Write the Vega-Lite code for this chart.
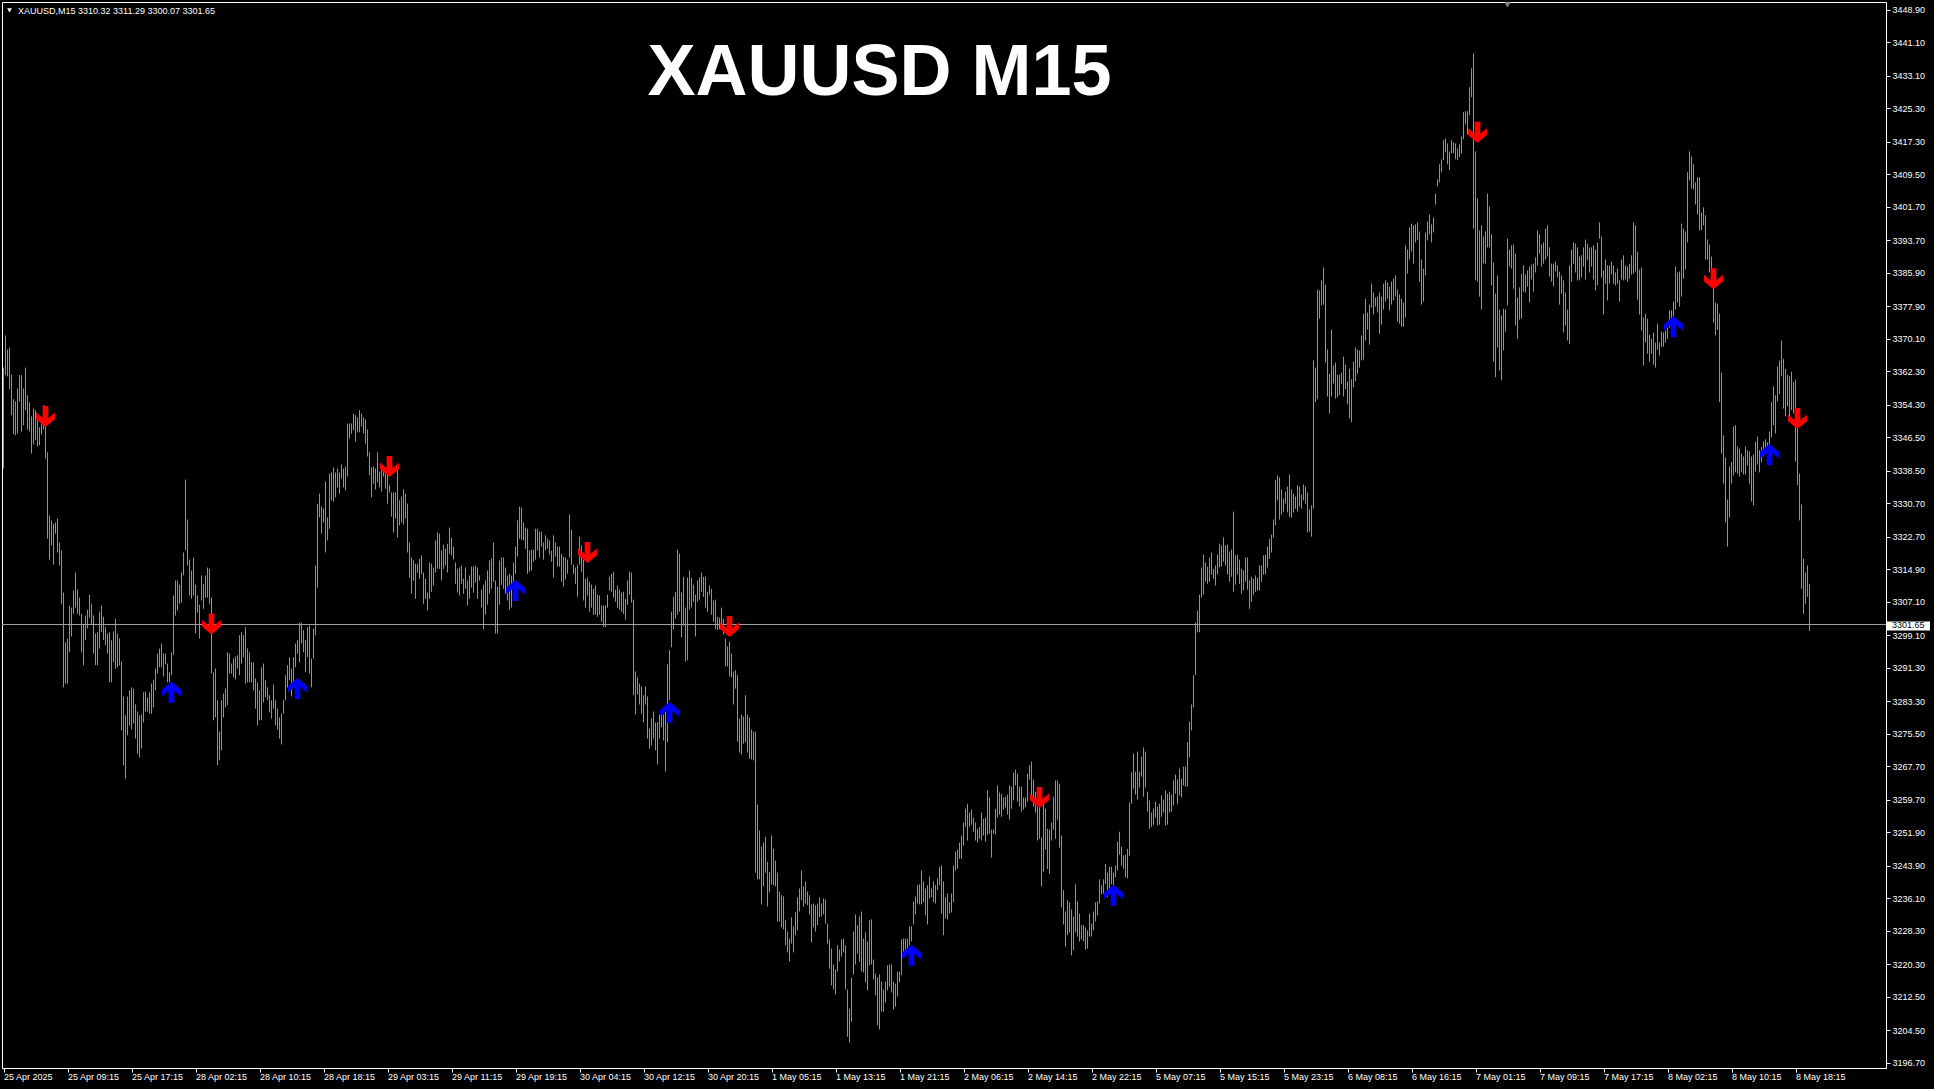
{
"$schema": "https://vega.github.io/schema/vega-lite/v6.json",
"width": 1884, "height": 1066,
"autosize": {"type": "none"},
"padding": {"left": 2, "top": 2, "right": 48, "bottom": 21},
"background": "#000000",
"config": {"view": {"stroke": "#ffffff", "strokeWidth": 1, "fill": "#000000"}, "font": "Liberation Sans",
"axis": {"labelOverlap": false, "labelFlush": false, "labelBound": false, "labelSeparation": 0, "grid": false, "title": null}},
"datasets": {
"bars": [
{"i":0,"h":3363.2,"l":3339.0},{"i":1,"h":3370.9,"l":3361.4},{"i":2,"h":3367.5,"l":3361.1},{"i":3,"h":3368.0,"l":3358.0},{"i":4,"h":3361.5,"l":3351.8},{"i":5,"h":3355.6,"l":3347.2},{"i":6,"h":3355.1,"l":3347.0},{"i":7,"h":3358.2,"l":3347.4},{"i":8,"h":3361.4,"l":3355.1},{"i":9,"h":3361.4,"l":3347.9},
{"i":10,"h":3358.2,"l":3349.4},{"i":11,"h":3363.2,"l":3353.0},{"i":12,"h":3356.6,"l":3348.4},{"i":13,"h":3354.9,"l":3347.9},{"i":14,"h":3351.5,"l":3342.6},{"i":15,"h":3353.4,"l":3344.8},{"i":16,"h":3353.0,"l":3345.8},{"i":17,"h":3351.0,"l":3344.3},{"i":18,"h":3348.9,"l":3344.6},{"i":19,"h":3350.1,"l":3347.2},
{"i":20,"h":3354.2,"l":3348.4},{"i":21,"h":3350.6,"l":3341.4},{"i":22,"h":3342.9,"l":3322.2},{"i":23,"h":3327.8,"l":3317.2},{"i":24,"h":3326.6,"l":3320.6},{"i":25,"h":3325.8,"l":3316.0},{"i":26,"h":3326.1,"l":3323.4},{"i":27,"h":3327.0,"l":3318.9},{"i":28,"h":3321.3,"l":3315.8},{"i":29,"h":3319.4,"l":3306.6},
{"i":30,"h":3309.3,"l":3286.6},{"i":31,"h":3297.4,"l":3287.5},{"i":32,"h":3298.3,"l":3287.5},{"i":33,"h":3306.2,"l":3295.0},{"i":34,"h":3305.7,"l":3298.8},{"i":35,"h":3309.8,"l":3304.2},{"i":36,"h":3314.1,"l":3305.7},{"i":37,"h":3310.0,"l":3304.2},{"i":38,"h":3308.1,"l":3303.8},{"i":39,"h":3304.2,"l":3295.0},
{"i":40,"h":3301.8,"l":3291.9},{"i":41,"h":3303.8,"l":3297.9},{"i":42,"h":3305.2,"l":3300.7},{"i":43,"h":3308.8,"l":3303.3},{"i":44,"h":3306.6,"l":3301.5},{"i":45,"h":3303.8,"l":3294.7},{"i":46,"h":3299.5,"l":3291.9},{"i":47,"h":3299.8,"l":3291.9},{"i":48,"h":3304.7,"l":3295.9},{"i":49,"h":3306.2,"l":3299.8},
{"i":50,"h":3303.5,"l":3297.9},{"i":51,"h":3301.0,"l":3296.7},{"i":52,"h":3299.5,"l":3294.7},{"i":53,"h":3299.8,"l":3287.8},{"i":54,"h":3297.9,"l":3287.8},{"i":55,"h":3300.0,"l":3292.6},{"i":56,"h":3303.0,"l":3291.1},{"i":57,"h":3299.5,"l":3291.4},{"i":58,"h":3298.3,"l":3291.9},{"i":59,"h":3292.8,"l":3276.3},
{"i":60,"h":3284.4,"l":3267.9},{"i":61,"h":3279.9,"l":3264.7},{"i":62,"h":3284.4,"l":3275.1},{"i":63,"h":3285.9,"l":3277.5},{"i":64,"h":3286.6,"l":3276.5},{"i":65,"h":3286.3,"l":3277.9},{"i":66,"h":3282.5,"l":3274.3},{"i":67,"h":3280.8,"l":3270.7},{"i":68,"h":3279.9,"l":3269.8},{"i":69,"h":3280.1,"l":3271.9},
{"i":70,"h":3285.4,"l":3278.2},{"i":71,"h":3285.6,"l":3280.8},{"i":72,"h":3284.2,"l":3280.8},{"i":73,"h":3285.4,"l":3280.3},{"i":74,"h":3287.5,"l":3280.3},{"i":75,"h":3288.3,"l":3281.8},{"i":76,"h":3291.1,"l":3285.9},{"i":77,"h":3294.7,"l":3289.9},{"i":78,"h":3295.9,"l":3291.4},{"i":79,"h":3297.1,"l":3291.4},
{"i":80,"h":3294.7,"l":3289.2},{"i":81,"h":3294.7,"l":3292.1},{"i":82,"h":3292.3,"l":3287.8},{"i":83,"h":3290.2,"l":3287.8},{"i":84,"h":3295.0,"l":3289.5},{"i":85,"h":3308.6,"l":3294.3},{"i":86,"h":3312.2,"l":3303.8},{"i":87,"h":3312.2,"l":3305.0},{"i":88,"h":3311.2,"l":3306.6},{"i":89,"h":3314.1,"l":3306.9},
{"i":90,"h":3318.9,"l":3313.4},{"i":91,"h":3336.4,"l":3319.4},{"i":92,"h":3326.8,"l":3315.8},{"i":93,"h":3317.2,"l":3308.6},{"i":94,"h":3314.6,"l":3307.8},{"i":95,"h":3317.7,"l":3308.6},{"i":96,"h":3311.2,"l":3299.5},{"i":97,"h":3308.6,"l":3304.5},{"i":98,"h":3306.4,"l":3298.3},{"i":99,"h":3313.4,"l":3307.4},
{"i":100,"h":3311.4,"l":3305.4},{"i":101,"h":3313.4,"l":3308.1},{"i":102,"h":3315.3,"l":3308.1},{"i":103,"h":3315.0,"l":3306.6},{"i":104,"h":3308.1,"l":3289.9},{"i":105,"h":3290.2,"l":3278.7},{"i":106,"h":3291.1,"l":3279.4},{"i":107,"h":3283.5,"l":3267.9},{"i":108,"h":3276.0,"l":3269.1},{"i":109,"h":3283.5,"l":3271.5},
{"i":110,"h":3285.1,"l":3279.4},{"i":111,"h":3286.3,"l":3281.8},{"i":112,"h":3295.0,"l":3282.3},{"i":113,"h":3294.7,"l":3289.9},{"i":114,"h":3292.3,"l":3289.9},{"i":115,"h":3293.5,"l":3289.0},{"i":116,"h":3294.0,"l":3288.5},{"i":117,"h":3294.3,"l":3291.1},{"i":118,"h":3299.1,"l":3289.5},{"i":119,"h":3299.8,"l":3292.3},
{"i":120,"h":3299.1,"l":3293.8},{"i":121,"h":3301.0,"l":3287.5},{"i":122,"h":3295.9,"l":3287.8},{"i":123,"h":3295.0,"l":3287.8},{"i":124,"h":3292.6,"l":3287.8},{"i":125,"h":3292.6,"l":3285.9},{"i":126,"h":3288.7,"l":3281.5},{"i":127,"h":3287.8,"l":3277.5},{"i":128,"h":3285.9,"l":3278.7},{"i":129,"h":3291.4,"l":3278.7},
{"i":130,"h":3292.3,"l":3283.0},{"i":131,"h":3288.3,"l":3284.2},{"i":132,"h":3286.6,"l":3283.5},{"i":133,"h":3284.7,"l":3280.6},{"i":134,"h":3283.5,"l":3279.1},{"i":135,"h":3287.3,"l":3281.5},{"i":136,"h":3283.5,"l":3277.5},{"i":137,"h":3281.5,"l":3276.5},{"i":138,"h":3279.4,"l":3274.3},{"i":139,"h":3280.3,"l":3272.9},
{"i":140,"h":3283.5,"l":3280.3},{"i":141,"h":3289.5,"l":3283.5},{"i":142,"h":3291.9,"l":3286.6},{"i":143,"h":3293.8,"l":3288.3},{"i":144,"h":3291.1,"l":3284.4},{"i":145,"h":3293.8,"l":3287.1},{"i":146,"h":3297.1,"l":3291.4},{"i":147,"h":3297.9,"l":3294.7},{"i":148,"h":3302.1,"l":3292.6},{"i":149,"h":3302.1,"l":3297.1},
{"i":150,"h":3300.3,"l":3295.0},{"i":151,"h":3297.9,"l":3290.2},{"i":152,"h":3301.0,"l":3293.8},{"i":153,"h":3301.4,"l":3289.9},{"i":154,"h":3293.5,"l":3286.6},{"i":155,"h":3300.7,"l":3293.5},{"i":156,"h":3315.8,"l":3299.1},{"i":157,"h":3330.6,"l":3310.5},{"i":158,"h":3333.0,"l":3327.3},{"i":159,"h":3329.9,"l":3323.4},
{"i":160,"h":3329.4,"l":3326.1},{"i":161,"h":3335.9,"l":3318.9},{"i":162,"h":3327.3,"l":3321.8},{"i":163,"h":3337.8,"l":3324.6},{"i":164,"h":3338.1,"l":3331.4},{"i":165,"h":3339.3,"l":3331.1},{"i":166,"h":3338.1,"l":3332.1},{"i":167,"h":3339.0,"l":3334.5},{"i":168,"h":3338.1,"l":3333.0},{"i":169,"h":3340.0,"l":3336.6},
{"i":170,"h":3339.0,"l":3334.5},{"i":171,"h":3339.5,"l":3333.8},{"i":172,"h":3349.8,"l":3337.1},{"i":173,"h":3349.8,"l":3346.2},{"i":174,"h":3349.8,"l":3347.4},{"i":175,"h":3352.2,"l":3348.2},{"i":176,"h":3351.8,"l":3345.5},{"i":177,"h":3351.3,"l":3347.7},{"i":178,"h":3353.0,"l":3347.7},{"i":179,"h":3352.2,"l":3349.1},
{"i":180,"h":3351.3,"l":3347.4},{"i":181,"h":3350.8,"l":3345.0},{"i":182,"h":3348.4,"l":3341.9},{"i":183,"h":3342.9,"l":3337.4},{"i":184,"h":3339.3,"l":3332.1},{"i":185,"h":3339.5,"l":3335.4},{"i":186,"h":3339.0,"l":3334.0},{"i":187,"h":3342.9,"l":3335.7},{"i":188,"h":3338.3,"l":3334.5},{"i":189,"h":3339.0,"l":3333.5},
{"i":190,"h":3338.8,"l":3337.1},{"i":191,"h":3338.1,"l":3334.2},{"i":192,"h":3337.8,"l":3330.6},{"i":193,"h":3335.0,"l":3333.3},{"i":194,"h":3333.3,"l":3327.5},{"i":195,"h":3333.3,"l":3323.7},{"i":196,"h":3333.3,"l":3327.0},{"i":197,"h":3338.6,"l":3322.5},{"i":198,"h":3331.4,"l":3325.4},{"i":199,"h":3332.3,"l":3326.1},
{"i":200,"h":3334.0,"l":3325.6},{"i":201,"h":3333.0,"l":3327.0},{"i":202,"h":3330.6,"l":3318.9},{"i":203,"h":3321.3,"l":3312.9},{"i":204,"h":3317.7,"l":3309.0},{"i":205,"h":3317.0,"l":3312.2},{"i":206,"h":3316.2,"l":3307.8},{"i":207,"h":3316.2,"l":3314.1},{"i":208,"h":3317.4,"l":3312.6},{"i":209,"h":3318.2,"l":3313.8},
{"i":210,"h":3314.1,"l":3306.6},{"i":211,"h":3312.6,"l":3307.8},{"i":212,"h":3309.3,"l":3305.0},{"i":213,"h":3316.5,"l":3307.8},{"i":214,"h":3316.2,"l":3309.5},{"i":215,"h":3315.3,"l":3311.0},{"i":216,"h":3321.8,"l":3314.1},{"i":217,"h":3323.7,"l":3315.0},{"i":218,"h":3323.4,"l":3315.0},{"i":219,"h":3319.4,"l":3312.2},
{"i":220,"h":3320.8,"l":3315.0},{"i":221,"h":3319.8,"l":3315.8},{"i":222,"h":3321.0,"l":3314.1},{"i":223,"h":3324.9,"l":3318.6},{"i":224,"h":3322.5,"l":3318.2},{"i":225,"h":3320.3,"l":3317.2},{"i":226,"h":3316.5,"l":3311.4},{"i":227,"h":3315.0,"l":3309.3},{"i":228,"h":3315.3,"l":3308.6},{"i":229,"h":3315.8,"l":3311.4},
{"i":230,"h":3312.6,"l":3309.0},{"i":231,"h":3315.3,"l":3310.2},{"i":232,"h":3312.2,"l":3306.2},{"i":233,"h":3313.4,"l":3307.8},{"i":234,"h":3315.5,"l":3310.5},{"i":235,"h":3315.5,"l":3309.3},{"i":236,"h":3315.8,"l":3311.7},{"i":237,"h":3315.3,"l":3307.8},{"i":238,"h":3313.4,"l":3312.2},{"i":239,"h":3310.0,"l":3305.7},
{"i":240,"h":3311.2,"l":3300.5},{"i":241,"h":3312.2,"l":3304.0},{"i":242,"h":3314.6,"l":3306.4},{"i":243,"h":3317.0,"l":3309.0},{"i":244,"h":3317.4,"l":3310.2},{"i":245,"h":3321.3,"l":3311.9},{"i":246,"h":3312.2,"l":3299.5},{"i":247,"h":3310.7,"l":3299.5},{"i":248,"h":3317.0,"l":3306.4},{"i":249,"h":3317.7,"l":3311.2},
{"i":250,"h":3317.7,"l":3310.2},{"i":251,"h":3315.3,"l":3309.0},{"i":252,"h":3313.4,"l":3307.4},{"i":253,"h":3313.8,"l":3305.2},{"i":254,"h":3313.4,"l":3305.7},{"i":255,"h":3316.5,"l":3309.5},{"i":256,"h":3320.3,"l":3313.8},{"i":257,"h":3326.6,"l":3317.9},{"i":258,"h":3329.9,"l":3322.2},{"i":259,"h":3329.7,"l":3322.0},
{"i":260,"h":3326.1,"l":3321.8},{"i":261,"h":3324.9,"l":3319.8},{"i":262,"h":3324.6,"l":3313.8},{"i":263,"h":3319.4,"l":3314.3},{"i":264,"h":3319.6,"l":3314.6},{"i":265,"h":3319.6,"l":3316.7},{"i":266,"h":3324.6,"l":3317.2},{"i":267,"h":3324.6,"l":3319.4},{"i":268,"h":3323.9,"l":3317.7},{"i":269,"h":3323.9,"l":3320.3},
{"i":270,"h":3321.3,"l":3317.2},{"i":271,"h":3323.0,"l":3319.4},{"i":272,"h":3322.2,"l":3319.8},{"i":273,"h":3321.8,"l":3318.4},{"i":274,"h":3319.4,"l":3316.7},{"i":275,"h":3323.0,"l":3312.9},{"i":276,"h":3321.3,"l":3317.9},{"i":277,"h":3320.3,"l":3315.5},{"i":278,"h":3320.3,"l":3315.5},{"i":279,"h":3318.6,"l":3311.9},
{"i":280,"h":3317.9,"l":3310.7},{"i":281,"h":3317.7,"l":3312.4},{"i":282,"h":3317.2,"l":3313.8},{"i":283,"h":3328.0,"l":3317.7},{"i":284,"h":3324.4,"l":3316.0},{"i":285,"h":3316.0,"l":3313.8},{"i":286,"h":3315.3,"l":3311.4},{"i":287,"h":3316.0,"l":3308.3},{"i":288,"h":3322.7,"l":3316.0},{"i":289,"h":3320.6,"l":3314.3},
{"i":290,"h":3317.2,"l":3307.4},{"i":291,"h":3312.6,"l":3305.7},{"i":292,"h":3312.9,"l":3308.6},{"i":293,"h":3311.9,"l":3304.7},{"i":294,"h":3311.2,"l":3305.7},{"i":295,"h":3310.2,"l":3304.0},{"i":296,"h":3311.0,"l":3304.0},{"i":297,"h":3308.8,"l":3303.5},{"i":298,"h":3308.6,"l":3304.0},{"i":299,"h":3306.2,"l":3302.3},
{"i":300,"h":3306.2,"l":3301.0},{"i":301,"h":3306.2,"l":3301.0},{"i":302,"h":3308.8,"l":3305.7},{"i":303,"h":3313.1,"l":3309.8},{"i":304,"h":3313.8,"l":3309.5},{"i":305,"h":3314.3,"l":3308.1},{"i":306,"h":3310.0,"l":3307.1},{"i":307,"h":3311.0,"l":3305.7},{"i":308,"h":3310.0,"l":3305.2},{"i":309,"h":3309.3,"l":3304.7},
{"i":310,"h":3309.5,"l":3304.2},{"i":311,"h":3307.8,"l":3302.8},{"i":312,"h":3312.2,"l":3306.4},{"i":313,"h":3314.3,"l":3308.8},{"i":314,"h":3314.1,"l":3306.9},{"i":315,"h":3307.6,"l":3284.7},{"i":316,"h":3290.4,"l":3280.1},{"i":317,"h":3289.0,"l":3284.9},{"i":318,"h":3287.5,"l":3282.5},{"i":319,"h":3286.8,"l":3280.3},
{"i":320,"h":3284.7,"l":3278.2},{"i":321,"h":3286.8,"l":3282.5},{"i":322,"h":3284.4,"l":3274.3},{"i":323,"h":3276.7,"l":3271.9},{"i":324,"h":3279.1,"l":3272.7},{"i":325,"h":3280.8,"l":3274.3},{"i":326,"h":3278.2,"l":3271.5},{"i":327,"h":3278.2,"l":3268.1},{"i":328,"h":3280.1,"l":3274.3},{"i":329,"h":3281.3,"l":3277.0},
{"i":330,"h":3280.1,"l":3273.9},{"i":331,"h":3280.8,"l":3266.4},{"i":332,"h":3292.1,"l":3273.4},{"i":333,"h":3295.5,"l":3283.5},{"i":334,"h":3304.7,"l":3296.2},{"i":335,"h":3308.3,"l":3300.5},{"i":336,"h":3309.5,"l":3303.0},{"i":337,"h":3319.6,"l":3304.0},{"i":338,"h":3318.6,"l":3304.7},{"i":339,"h":3309.3,"l":3298.6},
{"i":340,"h":3313.1,"l":3301.4},{"i":341,"h":3305.7,"l":3292.8},{"i":342,"h":3312.9,"l":3293.1},{"i":343,"h":3314.6,"l":3305.2},{"i":344,"h":3312.9,"l":3305.7},{"i":345,"h":3311.2,"l":3307.1},{"i":346,"h":3308.8,"l":3298.8},{"i":347,"h":3312.2,"l":3307.1},{"i":348,"h":3312.9,"l":3307.6},{"i":349,"h":3314.1,"l":3309.5},
{"i":350,"h":3313.1,"l":3308.3},{"i":351,"h":3313.1,"l":3305.7},{"i":352,"h":3309.5,"l":3304.7},{"i":353,"h":3311.0,"l":3308.8},{"i":354,"h":3310.2,"l":3304.0},{"i":355,"h":3307.4,"l":3302.3},{"i":356,"h":3307.6,"l":3300.5},{"i":357,"h":3303.5,"l":3300.3},{"i":358,"h":3303.3,"l":3300.5},{"i":359,"h":3305.7,"l":3301.0},
{"i":360,"h":3303.0,"l":3299.3},{"i":361,"h":3298.3,"l":3291.6},{"i":362,"h":3296.4,"l":3291.6},{"i":363,"h":3297.6,"l":3289.2},{"i":364,"h":3294.7,"l":3289.0},{"i":365,"h":3290.4,"l":3282.5},{"i":366,"h":3290.7,"l":3286.3},{"i":367,"h":3289.5,"l":3273.6},{"i":368,"h":3279.1,"l":3271.0},{"i":369,"h":3280.1,"l":3270.5},
{"i":370,"h":3279.6,"l":3273.1},{"i":371,"h":3284.7,"l":3273.4},{"i":372,"h":3280.1,"l":3271.0},{"i":373,"h":3279.4,"l":3269.5},{"i":374,"h":3276.5,"l":3269.3},{"i":375,"h":3276.0,"l":3269.1},{"i":376,"h":3276.0,"l":3242.2},{"i":377,"h":3258.5,"l":3240.6},{"i":378,"h":3252.3,"l":3240.6},{"i":379,"h":3248.4,"l":3234.6},
{"i":380,"h":3249.4,"l":3238.9},{"i":381,"h":3250.8,"l":3242.2},{"i":382,"h":3244.8,"l":3234.1},{"i":383,"h":3242.4,"l":3237.5},{"i":384,"h":3251.1,"l":3239.4},{"i":385,"h":3247.9,"l":3239.2},{"i":386,"h":3245.1,"l":3238.9},{"i":387,"h":3242.2,"l":3230.5},{"i":388,"h":3237.7,"l":3230.5},{"i":389,"h":3236.8,"l":3229.1},
{"i":390,"h":3236.5,"l":3228.6},{"i":391,"h":3230.8,"l":3224.8},{"i":392,"h":3228.1,"l":3223.1},{"i":393,"h":3226.4,"l":3220.9},{"i":394,"h":3231.5,"l":3225.2},{"i":395,"h":3229.3,"l":3223.1},{"i":396,"h":3232.7,"l":3227.2},{"i":397,"h":3236.3,"l":3228.4},{"i":398,"h":3238.4,"l":3232.9},{"i":399,"h":3242.7,"l":3235.6},
{"i":400,"h":3238.9,"l":3234.1},{"i":401,"h":3240.1,"l":3234.8},{"i":402,"h":3237.7,"l":3234.4},{"i":403,"h":3236.8,"l":3232.2},{"i":404,"h":3234.6,"l":3225.5},{"i":405,"h":3234.8,"l":3229.1},{"i":406,"h":3234.4,"l":3228.1},{"i":407,"h":3234.8,"l":3229.6},{"i":408,"h":3236.3,"l":3231.5},{"i":409,"h":3234.8,"l":3231.7},
{"i":410,"h":3236.0,"l":3232.2},{"i":411,"h":3235.8,"l":3230.0},{"i":412,"h":3230.0,"l":3225.2},{"i":413,"h":3226.2,"l":3219.2},{"i":414,"h":3224.0,"l":3215.2},{"i":415,"h":3220.2,"l":3214.2},{"i":416,"h":3219.0,"l":3213.0},{"i":417,"h":3224.8,"l":3218.5},{"i":418,"h":3223.8,"l":3220.9},{"i":419,"h":3226.2,"l":3222.1},
{"i":420,"h":3226.4,"l":3223.1},{"i":421,"h":3224.8,"l":3214.2},{"i":422,"h":3214.2,"l":3202.9},{"i":423,"h":3209.6,"l":3201.5},{"i":424,"h":3217.1,"l":3206.5},{"i":425,"h":3228.1,"l":3217.8},{"i":426,"h":3232.2,"l":3220.2},{"i":427,"h":3229.6,"l":3222.8},{"i":428,"h":3231.7,"l":3220.9},{"i":429,"h":3232.9,"l":3218.5},
{"i":430,"h":3226.4,"l":3218.3},{"i":431,"h":3227.9,"l":3215.9},{"i":432,"h":3225.7,"l":3214.0},{"i":433,"h":3230.8,"l":3220.0},{"i":434,"h":3231.0,"l":3220.2},{"i":435,"h":3221.4,"l":3216.6},{"i":436,"h":3218.0,"l":3212.8},{"i":437,"h":3217.1,"l":3205.6},{"i":438,"h":3217.8,"l":3204.6},{"i":439,"h":3216.1,"l":3208.9},
{"i":440,"h":3214.2,"l":3208.9},{"i":441,"h":3216.1,"l":3211.1},{"i":442,"h":3220.0,"l":3214.0},{"i":443,"h":3220.2,"l":3214.9},{"i":444,"h":3220.2,"l":3213.5},{"i":445,"h":3216.1,"l":3209.4},{"i":446,"h":3215.6,"l":3210.1},{"i":447,"h":3218.5,"l":3212.5},{"i":448,"h":3218.5,"l":3215.9},{"i":449,"h":3226.2,"l":3217.6},
{"i":450,"h":3226.4,"l":3222.4},{"i":451,"h":3226.4,"l":3223.1},{"i":452,"h":3226.4,"l":3222.8},{"i":453,"h":3229.3,"l":3224.8},{"i":454,"h":3229.3,"l":3225.7},{"i":455,"h":3235.3,"l":3229.8},{"i":456,"h":3236.5,"l":3232.2},{"i":457,"h":3239.2,"l":3234.8},{"i":458,"h":3239.4,"l":3234.6},{"i":459,"h":3242.7,"l":3234.6},
{"i":460,"h":3240.1,"l":3235.1},{"i":461,"h":3238.4,"l":3232.0},{"i":462,"h":3239.2,"l":3229.8},{"i":463,"h":3241.3,"l":3236.0},{"i":464,"h":3238.4,"l":3236.3},{"i":465,"h":3240.1,"l":3235.1},{"i":466,"h":3239.2,"l":3234.8},{"i":467,"h":3240.8,"l":3238.0},{"i":468,"h":3243.6,"l":3239.2},{"i":469,"h":3243.9,"l":3232.4},
{"i":470,"h":3240.1,"l":3227.2},{"i":471,"h":3236.3,"l":3231.2},{"i":472,"h":3237.2,"l":3231.0},{"i":473,"h":3235.1,"l":3232.4},{"i":474,"h":3237.2,"l":3232.7},{"i":475,"h":3243.9,"l":3235.1},{"i":476,"h":3247.2,"l":3242.7},{"i":477,"h":3247.7,"l":3243.1},{"i":478,"h":3249.4,"l":3245.5},{"i":479,"h":3251.1,"l":3245.5},
{"i":480,"h":3254.2,"l":3248.7},{"i":481,"h":3257.5,"l":3253.2},{"i":482,"h":3258.7,"l":3249.9},{"i":483,"h":3256.6,"l":3253.2},{"i":484,"h":3257.3,"l":3253.7},{"i":485,"h":3255.4,"l":3252.0},{"i":486,"h":3254.2,"l":3249.9},{"i":487,"h":3252.7,"l":3249.4},{"i":488,"h":3253.2,"l":3250.3},{"i":489,"h":3256.6,"l":3249.9},
{"i":490,"h":3255.1,"l":3251.1},{"i":491,"h":3255.4,"l":3249.6},{"i":492,"h":3261.9,"l":3251.3},{"i":493,"h":3260.2,"l":3251.5},{"i":494,"h":3252.5,"l":3245.8},{"i":495,"h":3252.5,"l":3251.5},{"i":496,"h":3257.5,"l":3251.3},{"i":497,"h":3263.1,"l":3255.4},{"i":498,"h":3261.4,"l":3256.1},{"i":499,"h":3261.1,"l":3255.6},
{"i":500,"h":3260.2,"l":3257.3},{"i":501,"h":3260.4,"l":3257.8},{"i":502,"h":3260.9,"l":3256.1},{"i":503,"h":3263.1,"l":3254.9},{"i":504,"h":3262.8,"l":3257.5},{"i":505,"h":3266.2,"l":3259.5},{"i":506,"h":3266.9,"l":3263.1},{"i":507,"h":3265.9,"l":3259.2},{"i":508,"h":3262.8,"l":3258.0},{"i":509,"h":3262.8,"l":3256.8},
{"i":510,"h":3260.2,"l":3257.3},{"i":511,"h":3260.2,"l":3257.8},{"i":512,"h":3265.9,"l":3259.2},{"i":513,"h":3267.9,"l":3264.5},{"i":514,"h":3268.8,"l":3259.7},{"i":515,"h":3264.5,"l":3258.0},{"i":516,"h":3261.6,"l":3256.6},{"i":517,"h":3258.0,"l":3249.9},{"i":518,"h":3260.4,"l":3250.3},{"i":519,"h":3250.6,"l":3238.9},
{"i":520,"h":3259.2,"l":3242.4},{"i":521,"h":3257.5,"l":3247.7},{"i":522,"h":3252.7,"l":3243.1},{"i":523,"h":3252.5,"l":3241.9},{"i":524,"h":3254.2,"l":3249.9},{"i":525,"h":3260.4,"l":3252.5},{"i":526,"h":3264.3,"l":3250.3},{"i":527,"h":3264.3,"l":3254.9},{"i":528,"h":3263.5,"l":3248.2},{"i":529,"h":3251.1,"l":3233.9},
{"i":530,"h":3238.0,"l":3229.8},{"i":531,"h":3232.9,"l":3224.5},{"i":532,"h":3235.6,"l":3227.2},{"i":533,"h":3235.1,"l":3227.9},{"i":534,"h":3233.4,"l":3222.4},{"i":535,"h":3231.7,"l":3223.6},{"i":536,"h":3239.4,"l":3227.9},{"i":537,"h":3235.3,"l":3226.9},{"i":538,"h":3232.4,"l":3225.7},{"i":539,"h":3229.6,"l":3226.2},
{"i":540,"h":3229.6,"l":3225.7},{"i":541,"h":3229.1,"l":3223.8},{"i":542,"h":3228.4,"l":3224.0},{"i":543,"h":3232.4,"l":3226.9},{"i":544,"h":3230.0,"l":3226.9},{"i":545,"h":3232.9,"l":3228.4},{"i":546,"h":3235.1,"l":3230.5},{"i":547,"h":3235.3,"l":3232.0},{"i":548,"h":3240.6,"l":3234.8},{"i":549,"h":3239.2,"l":3237.0},
{"i":550,"h":3240.6,"l":3237.2},{"i":551,"h":3244.3,"l":3239.5},{"i":552,"h":3242.2,"l":3236.3},{"i":553,"h":3243.6,"l":3238.0},{"i":554,"h":3243.6,"l":3239.4},{"i":555,"h":3242.2,"l":3238.4},{"i":556,"h":3243.9,"l":3241.1},{"i":557,"h":3249.6,"l":3242.7},{"i":558,"h":3252.0,"l":3246.5},{"i":559,"h":3248.4,"l":3243.9},
{"i":560,"h":3246.3,"l":3243.1},{"i":561,"h":3246.5,"l":3241.1},{"i":562,"h":3247.9,"l":3240.8},{"i":563,"h":3259.0,"l":3246.3},{"i":564,"h":3266.2,"l":3258.7},{"i":565,"h":3270.7,"l":3262.3},{"i":566,"h":3266.4,"l":3260.9},{"i":567,"h":3271.2,"l":3259.7},{"i":568,"h":3266.4,"l":3262.6},{"i":569,"h":3270.0,"l":3265.2},
{"i":570,"h":3272.2,"l":3260.4},{"i":571,"h":3271.2,"l":3262.6},{"i":572,"h":3261.6,"l":3256.8},{"i":573,"h":3259.5,"l":3252.7},{"i":574,"h":3256.6,"l":3253.2},{"i":575,"h":3257.5,"l":3253.7},{"i":576,"h":3259.2,"l":3255.4},{"i":577,"h":3258.0,"l":3253.5},{"i":578,"h":3258.7,"l":3253.7},{"i":579,"h":3260.7,"l":3255.6},
{"i":580,"h":3259.7,"l":3256.6},{"i":581,"h":3261.9,"l":3253.5},{"i":582,"h":3261.1,"l":3253.7},{"i":583,"h":3261.6,"l":3256.6},{"i":584,"h":3260.9,"l":3256.8},{"i":585,"h":3264.3,"l":3258.3},{"i":586,"h":3265.7,"l":3261.1},{"i":587,"h":3264.5,"l":3258.7},{"i":588,"h":3267.1,"l":3260.7},{"i":589,"h":3264.7,"l":3260.2},
{"i":590,"h":3267.6,"l":3263.1},{"i":591,"h":3267.6,"l":3262.8},{"i":592,"h":3273.4,"l":3262.8},{"i":593,"h":3278.4,"l":3269.8},{"i":594,"h":3282.5,"l":3276.3},{"i":595,"h":3289.5,"l":3281.8},{"i":596,"h":3302.1,"l":3289.5},{"i":597,"h":3305.0,"l":3299.8},{"i":598,"h":3308.8,"l":3299.8},{"i":599,"h":3315.3,"l":3308.1},
{"i":600,"h":3318.4,"l":3308.8},{"i":601,"h":3316.5,"l":3311.9},{"i":602,"h":3315.5,"l":3311.4},{"i":603,"h":3317.7,"l":3311.9},{"i":604,"h":3318.9,"l":3313.6},{"i":605,"h":3315.0,"l":3312.6},{"i":606,"h":3315.8,"l":3311.0},{"i":607,"h":3318.4,"l":3313.6},{"i":608,"h":3321.0,"l":3315.3},{"i":609,"h":3320.6,"l":3315.5},
{"i":610,"h":3322.5,"l":3316.7},{"i":611,"h":3320.6,"l":3315.8},{"i":612,"h":3320.8,"l":3313.6},{"i":613,"h":3319.1,"l":3311.9},{"i":614,"h":3319.6,"l":3313.1},{"i":615,"h":3328.7,"l":3309.5},{"i":616,"h":3318.2,"l":3311.2},{"i":617,"h":3318.4,"l":3313.6},{"i":618,"h":3317.2,"l":3311.4},{"i":619,"h":3315.0,"l":3309.0},
{"i":620,"h":3314.6,"l":3309.8},{"i":621,"h":3317.7,"l":3311.9},{"i":622,"h":3317.7,"l":3310.0},{"i":623,"h":3312.2,"l":3305.4},{"i":624,"h":3313.1,"l":3307.1},{"i":625,"h":3312.6,"l":3308.8},{"i":626,"h":3313.4,"l":3309.5},{"i":627,"h":3312.9,"l":3309.8},{"i":628,"h":3315.8,"l":3309.8},{"i":629,"h":3315.8,"l":3311.9},
{"i":630,"h":3318.2,"l":3313.6},{"i":631,"h":3318.4,"l":3313.6},{"i":632,"h":3320.3,"l":3315.3},{"i":633,"h":3322.2,"l":3317.4},{"i":634,"h":3323.2,"l":3318.9},{"i":635,"h":3326.8,"l":3322.5},{"i":636,"h":3336.2,"l":3325.4},{"i":637,"h":3337.4,"l":3331.4},{"i":638,"h":3336.9,"l":3326.8},{"i":639,"h":3334.0,"l":3328.0},
{"i":640,"h":3331.8,"l":3328.7},{"i":641,"h":3333.5,"l":3330.6},{"i":642,"h":3334.7,"l":3328.5},{"i":643,"h":3337.6,"l":3327.5},{"i":644,"h":3334.0,"l":3327.3},{"i":645,"h":3333.0,"l":3328.5},{"i":646,"h":3332.3,"l":3329.4},{"i":647,"h":3335.0,"l":3328.7},{"i":648,"h":3334.7,"l":3329.9},{"i":649,"h":3332.8,"l":3329.4},
{"i":650,"h":3335.2,"l":3331.4},{"i":651,"h":3334.7,"l":3330.6},{"i":652,"h":3333.3,"l":3323.7},{"i":653,"h":3329.2,"l":3323.9},{"i":654,"h":3330.2,"l":3322.7},{"i":655,"h":3364.9,"l":3329.4},{"i":656,"h":3363.2,"l":3354.9},{"i":657,"h":3381.9,"l":3355.6},{"i":658,"h":3381.7,"l":3374.9},{"i":659,"h":3384.1,"l":3378.1},
{"i":660,"h":3387.2,"l":3378.3},{"i":661,"h":3383.1,"l":3364.4},{"i":662,"h":3367.5,"l":3356.3},{"i":663,"h":3361.7,"l":3352.2},{"i":664,"h":3372.3,"l":3356.3},{"i":665,"h":3363.7,"l":3359.4},{"i":666,"h":3364.4,"l":3355.8},{"i":667,"h":3361.5,"l":3356.1},{"i":668,"h":3361.5,"l":3356.6},{"i":669,"h":3362.0,"l":3359.2},
{"i":670,"h":3365.8,"l":3356.3},{"i":671,"h":3363.9,"l":3358.0},{"i":672,"h":3359.9,"l":3354.4},{"i":673,"h":3362.9,"l":3351.0},{"i":674,"h":3360.4,"l":3350.1},{"i":675,"h":3364.6,"l":3358.5},{"i":676,"h":3368.0,"l":3359.9},{"i":677,"h":3367.5,"l":3361.7},{"i":678,"h":3367.3,"l":3363.2},{"i":679,"h":3370.9,"l":3364.9},
{"i":680,"h":3376.1,"l":3365.1},{"i":681,"h":3379.7,"l":3369.7},{"i":682,"h":3376.4,"l":3372.3},{"i":683,"h":3378.3,"l":3368.7},{"i":684,"h":3383.3,"l":3377.6},{"i":685,"h":3381.2,"l":3375.9},{"i":686,"h":3380.0,"l":3377.8},{"i":687,"h":3380.2,"l":3376.4},{"i":688,"h":3381.2,"l":3371.3},{"i":689,"h":3380.2,"l":3373.5},
{"i":690,"h":3383.3,"l":3377.1},{"i":691,"h":3384.1,"l":3379.0},{"i":692,"h":3383.6,"l":3379.7},{"i":693,"h":3382.6,"l":3376.9},{"i":694,"h":3383.8,"l":3378.3},{"i":695,"h":3384.5,"l":3379.3},{"i":696,"h":3385.3,"l":3380.2},{"i":697,"h":3381.9,"l":3374.2},{"i":698,"h":3380.7,"l":3373.7},{"i":699,"h":3379.7,"l":3373.0},
{"i":700,"h":3378.8,"l":3373.0},{"i":701,"h":3392.5,"l":3375.2},{"i":702,"h":3391.5,"l":3385.7},{"i":703,"h":3396.8,"l":3389.1},{"i":704,"h":3397.7,"l":3391.0},{"i":705,"h":3397.3,"l":3388.1},{"i":706,"h":3397.5,"l":3393.2},{"i":707,"h":3398.0,"l":3393.7},{"i":708,"h":3395.8,"l":3383.8},{"i":709,"h":3389.1,"l":3378.3},
{"i":710,"h":3386.9,"l":3379.0},{"i":711,"h":3395.6,"l":3385.3},{"i":712,"h":3398.2,"l":3393.7},{"i":713,"h":3399.9,"l":3395.1},{"i":714,"h":3397.5,"l":3393.2},{"i":715,"h":3399.2,"l":3395.6},{"i":716,"h":3404.9,"l":3402.3},{"i":717,"h":3408.3,"l":3406.6},{"i":718,"h":3411.9,"l":3407.6},{"i":719,"h":3413.1,"l":3410.0},
{"i":720,"h":3417.7,"l":3412.9},{"i":721,"h":3418.1,"l":3414.8},{"i":722,"h":3416.9,"l":3411.9},{"i":723,"h":3415.0,"l":3410.5},{"i":724,"h":3417.7,"l":3414.5},{"i":725,"h":3417.2,"l":3414.5},{"i":726,"h":3416.9,"l":3413.1},{"i":727,"h":3415.7,"l":3412.9},{"i":728,"h":3416.7,"l":3413.6},{"i":729,"h":3418.6,"l":3414.5},
{"i":730,"h":3424.4,"l":3417.9},{"i":731,"h":3424.6,"l":3421.5},{"i":732,"h":3424.6,"l":3419.1},{"i":733,"h":3430.4,"l":3423.7},{"i":734,"h":3434.9,"l":3428.0},{"i":735,"h":3438.5,"l":3396.5},{"i":736,"h":3415.0,"l":3384.1},{"i":737,"h":3403.7,"l":3383.8},{"i":738,"h":3396.1,"l":3380.2},{"i":739,"h":3397.3,"l":3377.1},
{"i":740,"h":3394.6,"l":3388.1},{"i":741,"h":3395.8,"l":3388.1},{"i":742,"h":3404.9,"l":3392.0},{"i":743,"h":3401.8,"l":3392.0},{"i":744,"h":3395.1,"l":3382.9},{"i":745,"h":3388.4,"l":3364.6},{"i":746,"h":3380.9,"l":3360.9},{"i":747,"h":3385.3,"l":3368.0},{"i":748,"h":3377.1,"l":3362.5},{"i":749,"h":3375.7,"l":3360.2},
{"i":750,"h":3377.3,"l":3367.3},{"i":751,"h":3377.1,"l":3371.8},{"i":752,"h":3394.1,"l":3378.1},{"i":753,"h":3391.5,"l":3387.4},{"i":754,"h":3392.5,"l":3386.9},{"i":755,"h":3392.7,"l":3382.1},{"i":756,"h":3390.5,"l":3373.3},{"i":757,"h":3380.0,"l":3370.1},{"i":758,"h":3382.4,"l":3374.7},{"i":759,"h":3385.7,"l":3374.9},
{"i":760,"h":3387.7,"l":3381.4},{"i":761,"h":3385.5,"l":3381.2},{"i":762,"h":3386.5,"l":3382.6},{"i":763,"h":3387.4,"l":3378.8},{"i":764,"h":3387.9,"l":3384.3},{"i":765,"h":3388.1,"l":3381.4},{"i":766,"h":3389.6,"l":3386.0},{"i":767,"h":3396.1,"l":3387.7},{"i":768,"h":3395.1,"l":3390.5},{"i":769,"h":3392.7,"l":3387.4},
{"i":770,"h":3393.2,"l":3388.1},{"i":771,"h":3396.5,"l":3389.1},{"i":772,"h":3397.3,"l":3389.8},{"i":773,"h":3392.0,"l":3385.0},{"i":774,"h":3388.1,"l":3383.8},{"i":775,"h":3388.1,"l":3382.6},{"i":776,"h":3388.6,"l":3386.2},{"i":777,"h":3387.7,"l":3384.8},{"i":778,"h":3386.2,"l":3378.3},{"i":779,"h":3385.3,"l":3380.9},
{"i":780,"h":3384.1,"l":3371.6},{"i":781,"h":3381.2,"l":3373.3},{"i":782,"h":3377.1,"l":3369.7},{"i":783,"h":3387.7,"l":3368.9},{"i":784,"h":3391.5,"l":3383.8},{"i":785,"h":3393.2,"l":3388.1},{"i":786,"h":3392.9,"l":3386.0},{"i":787,"h":3392.0,"l":3384.1},{"i":788,"h":3389.8,"l":3384.1},{"i":789,"h":3390.1,"l":3384.8},
{"i":790,"h":3392.0,"l":3387.4},{"i":791,"h":3393.9,"l":3384.3},{"i":792,"h":3392.9,"l":3388.9},{"i":793,"h":3392.0,"l":3386.0},{"i":794,"h":3392.0,"l":3387.4},{"i":795,"h":3392.5,"l":3384.3},{"i":796,"h":3391.5,"l":3381.7},{"i":797,"h":3393.2,"l":3382.9},{"i":798,"h":3398.0,"l":3394.1},{"i":799,"h":3394.6,"l":3384.8},
{"i":800,"h":3386.5,"l":3375.9},{"i":801,"h":3389.1,"l":3383.3},{"i":802,"h":3387.7,"l":3379.3},{"i":803,"h":3387.7,"l":3383.3},{"i":804,"h":3388.6,"l":3385.5},{"i":805,"h":3387.7,"l":3383.3},{"i":806,"h":3386.0,"l":3382.9},{"i":807,"h":3386.9,"l":3383.3},{"i":808,"h":3384.1,"l":3379.0},{"i":809,"h":3389.1,"l":3384.3},
{"i":810,"h":3390.1,"l":3384.1},{"i":811,"h":3387.7,"l":3384.3},{"i":812,"h":3387.4,"l":3383.8},{"i":813,"h":3388.1,"l":3384.5},{"i":814,"h":3390.1,"l":3385.5},{"i":815,"h":3398.0,"l":3385.7},{"i":816,"h":3397.3,"l":3386.2},{"i":817,"h":3391.0,"l":3379.5},{"i":818,"h":3386.7,"l":3375.9},{"i":819,"h":3387.2,"l":3372.1},
{"i":820,"h":3375.2,"l":3363.7},{"i":821,"h":3376.1,"l":3369.2},{"i":822,"h":3374.9,"l":3366.5},{"i":823,"h":3371.1,"l":3364.6},{"i":824,"h":3370.1,"l":3366.5},{"i":825,"h":3371.6,"l":3363.9},{"i":826,"h":3369.2,"l":3363.2},{"i":827,"h":3373.7,"l":3367.5},{"i":828,"h":3369.2,"l":3366.1},{"i":829,"h":3371.8,"l":3368.2},
{"i":830,"h":3371.6,"l":3368.2},{"i":831,"h":3372.1,"l":3369.2},{"i":832,"h":3373.3,"l":3370.1},{"i":833,"h":3376.9,"l":3372.8},{"i":834,"h":3376.9,"l":3373.3},{"i":835,"h":3379.0,"l":3374.7},{"i":836,"h":3387.4,"l":3377.1},{"i":837,"h":3386.0,"l":3378.8},{"i":838,"h":3386.2,"l":3377.8},{"i":839,"h":3397.7,"l":3380.2},
{"i":840,"h":3396.5,"l":3384.5},{"i":841,"h":3395.8,"l":3386.7},{"i":842,"h":3410.0,"l":3393.2},{"i":843,"h":3415.0,"l":3408.1},{"i":844,"h":3413.8,"l":3406.1},{"i":845,"h":3411.9,"l":3405.9},{"i":846,"h":3407.6,"l":3402.3},{"i":847,"h":3408.8,"l":3399.9},{"i":848,"h":3408.8,"l":3396.1},{"i":849,"h":3400.4,"l":3396.1},
{"i":850,"h":3401.6,"l":3397.3},{"i":851,"h":3399.7,"l":3389.1},{"i":852,"h":3393.9,"l":3389.1},{"i":853,"h":3392.7,"l":3386.0},{"i":854,"h":3389.8,"l":3384.1},{"i":855,"h":3382.6,"l":3374.0},{"i":856,"h":3378.8,"l":3370.9},{"i":857,"h":3378.5,"l":3372.3},{"i":858,"h":3376.1,"l":3354.9},{"i":859,"h":3362.0,"l":3342.6},
{"i":860,"h":3347.0,"l":3335.4},{"i":861,"h":3341.7,"l":3326.1},{"i":862,"h":3331.6,"l":3320.3},{"i":863,"h":3339.5,"l":3327.3},{"i":864,"h":3340.5,"l":3335.4},{"i":865,"h":3349.1,"l":3337.4},{"i":866,"h":3349.4,"l":3338.1},{"i":867,"h":3344.3,"l":3337.8},{"i":868,"h":3343.8,"l":3337.1},{"i":869,"h":3342.6,"l":3338.1},
{"i":870,"h":3341.9,"l":3337.6},{"i":871,"h":3344.3,"l":3337.6},{"i":872,"h":3343.4,"l":3339.8},{"i":873,"h":3343.1,"l":3335.4},{"i":874,"h":3341.9,"l":3331.1},{"i":875,"h":3342.4,"l":3330.2},{"i":876,"h":3345.5,"l":3338.3},{"i":877,"h":3346.7,"l":3340.0},{"i":878,"h":3343.4,"l":3338.1},{"i":879,"h":3344.1,"l":3340.5},
{"i":880,"h":3345.5,"l":3341.9},{"i":881,"h":3346.0,"l":3342.4},{"i":882,"h":3345.3,"l":3341.7},{"i":883,"h":3347.9,"l":3343.4},{"i":884,"h":3354.9,"l":3346.5},{"i":885,"h":3358.7,"l":3349.4},{"i":886,"h":3356.6,"l":3347.4},{"i":887,"h":3363.4,"l":3355.1},{"i":888,"h":3364.9,"l":3356.8},{"i":889,"h":3369.7,"l":3361.1},
{"i":890,"h":3365.3,"l":3353.4},{"i":891,"h":3362.9,"l":3351.5},{"i":892,"h":3361.5,"l":3353.9},{"i":893,"h":3361.1,"l":3350.8},{"i":894,"h":3362.2,"l":3353.0},{"i":895,"h":3359.7,"l":3352.2},{"i":896,"h":3360.2,"l":3340.7},{"i":897,"h":3349.4,"l":3335.0},{"i":898,"h":3337.8,"l":3326.6},{"i":899,"h":3330.4,"l":3310.2},
{"i":900,"h":3317.4,"l":3304.2},{"i":901,"h":3314.1,"l":3306.6},{"i":902,"h":3315.8,"l":3308.3},{"i":903,"h":3311.29,"l":3300.07}
],
"sig": [
{"i":21,"p":3351.5,"s":"sell"},{"i":104,"p":3301.8,"s":"sell"},{"i":193,"p":3339.5,"s":"sell"},{"i":292,"p":3318.9,"s":"sell"},{"i":363,"p":3301.2,"s":"sell"},{"i":518,"p":3260.2,"s":"sell"},{"i":737,"p":3419.6,"s":"sell"},{"i":855,"p":3384.5,"s":"sell"},{"i":897,"p":3351.0,"s":"sell"},
{"i":84,"p":3285.4,"s":"buy"},{"i":147,"p":3286.3,"s":"buy"},{"i":256,"p":3309.8,"s":"buy"},{"i":333,"p":3280.6,"s":"buy"},{"i":454,"p":3222.4,"s":"buy"},{"i":555,"p":3236.8,"s":"buy"},{"i":835,"p":3373.0,"s":"buy"},{"i":883,"p":3342.4,"s":"buy"}
]
},
"layer": [
{
"data": {"name": "bars"},
"mark": {"type": "rule", "color": "#24e024", "strokeWidth": 1},
"encoding": {
"x": {"field": "i", "type": "quantitative", "scale": {"domain": [-0.75, 941.25], "nice": false, "zero": false},
"axis": {"title": null, "grid": false, "tickCount": 100, "values": [0,32,64,96,128,160,192,224,256,288,320,352,384,416,448,480,512,544,576,608,640,672,704,736,768,800,832,864,896],
"labelExpr": "['25 Apr 2025','25 Apr 09:15','25 Apr 17:15','28 Apr 02:15','28 Apr 10:15','28 Apr 18:15','29 Apr 03:15','29 Apr 11:15','29 Apr 19:15','30 Apr 04:15','30 Apr 12:15','30 Apr 20:15','1 May 05:15','1 May 13:15','1 May 21:15','2 May 06:15','2 May 14:15','2 May 22:15','5 May 07:15','5 May 15:15','5 May 23:15','6 May 08:15','6 May 16:15','7 May 01:15','7 May 09:15','7 May 17:15','8 May 02:15','8 May 10:15','8 May 18:15'][round(datum.value/32)]",
"domainColor": "#ffffff", "tickColor": "#ffffff", "tickSize": 4, "labelColor": "#ffffff", "labelFont": "Liberation Sans", "labelFontSize": 9,
"labelAlign": "left", "labelBaseline": "top", "labelPadding": 0, "labelDx": 1, "labelOverlap": false, "labelFlush": false, "labelBound": false}},
"y": {"field": "l", "type": "quantitative", "scale": {"domain": [3195.4, 3450.79], "nice": false, "zero": false},
"axis": {"title": null, "grid": false, "orient": "right", "format": ".2f", "tickCount": 100,
"values": [3448.9,3441.1,3433.1,3425.3,3417.3,3409.5,3401.7,3393.7,3385.9,3377.9,3370.1,3362.3,3354.3,3346.5,3338.5,3330.7,3322.7,3314.9,3307.1,3299.1,3291.3,3283.3,3275.5,3267.7,3259.7,3251.9,3243.9,3236.1,3228.3,3220.3,3212.5,3204.5,3196.7],
"domainColor": "#ffffff", "tickColor": "#ffffff", "tickSize": 4, "labelColor": "#ffffff", "labelFont": "Liberation Sans", "labelFontSize": 9,
"labelAlign": "left", "labelBaseline": "middle", "labelPadding": 2, "labelOverlap": false, "labelFlush": false, "labelBound": false, "labelSeparation": 0}},
"y2": {"field": "h"}
}
},
{
"data": {"values": [{"price": 3301.65}]},
"mark": {"type": "rule", "color": "#a0a0a0", "strokeWidth": 1},
"encoding": {"y": {"field": "price", "type": "quantitative"}}
},
{
"data": {"values": [{"a": 941.75, "b": 963.25, "top": 3302.37, "bot": 3300.21}]},
"mark": {"type": "rect", "color": "#ffffff"},
"encoding": {"x": {"field": "a", "type": "quantitative"}, "x2": {"field": "b"}, "y": {"field": "top", "type": "quantitative"}, "y2": {"field": "bot"}}
},
{
"data": {"values": [{"a": 944.25, "price": 3301.65, "t": "3301.65"}]},
"mark": {"type": "text", "color": "#000000", "font": "Liberation Sans", "fontSize": 9, "align": "left", "baseline": "middle"},
"encoding": {"x": {"field": "a", "type": "quantitative"}, "y": {"field": "price", "type": "quantitative"}, "text": {"field": "t"}}
},
{
"data": {"name": "sig"},
"transform": [{"filter": "datum.s == 'sell'"}],
"mark": {"type": "point", "filled": true, "opacity": 1, "strokeWidth": 0, "color": "#ff0000", "size": 441,
"shape": "M-0.27,-1L0.27,-1L0.27,0.14L0.9,-0.37L0.9,0.26L0,1L-0.9,0.26L-0.9,-0.37L-0.27,0.14Z"},
"encoding": {"x": {"field": "i", "type": "quantitative"}, "y": {"field": "p", "type": "quantitative"}}
},
{
"data": {"name": "sig"},
"transform": [{"filter": "datum.s == 'buy'"}],
"mark": {"type": "point", "filled": true, "opacity": 1, "strokeWidth": 0, "color": "#0000ff", "size": 441,
"shape": "M-0.27,1L0.27,1L0.27,-0.14L0.9,0.37L0.9,-0.26L0,-1L-0.9,-0.26L-0.9,0.37L-0.27,-0.14Z"},
"encoding": {"x": {"field": "i", "type": "quantitative"}, "y": {"field": "p", "type": "quantitative"}}
},
{
"data": {"values": [{"a": 438, "price": 3428.5, "t": "XAUUSD M15"}]},
"mark": {"type": "text", "color": "#ffffff", "font": "Liberation Sans", "fontWeight": "bold", "fontSize": 72, "align": "center", "baseline": "alphabetic"},
"encoding": {"x": {"field": "a", "type": "quantitative"}, "y": {"field": "price", "type": "quantitative"}, "text": {"field": "t"}}
},
{
"data": {"values": [{"a": 7.25, "price": 3448.75, "t": "XAUUSD,M15  3310.32 3311.29 3300.07 3301.65"}]},
"mark": {"type": "text", "color": "#ffffff", "font": "Liberation Sans", "fontSize": 9, "align": "left", "baseline": "middle"},
"encoding": {"x": {"field": "a", "type": "quantitative"}, "y": {"field": "price", "type": "quantitative"}, "text": {"field": "t"}}
},
{
"data": {"values": [{"a": 3, "price": 3448.8, "c": "w"}, {"a": 752, "price": 3450.1, "c": "g"}]},
"mark": {"type": "point", "shape": "triangle-down", "filled": true, "opacity": 1, "strokeWidth": 0},
"encoding": {"x": {"field": "a", "type": "quantitative"}, "y": {"field": "price", "type": "quantitative"},
"color": {"field": "c", "type": "nominal", "scale": {"domain": ["w", "g"], "range": ["#ffffff", "#808080"]}, "legend": null},
"size": {"field": "c", "type": "nominal", "scale": {"domain": ["w", "g"], "range": [24, 40]}, "legend": null}}
}
]
}
